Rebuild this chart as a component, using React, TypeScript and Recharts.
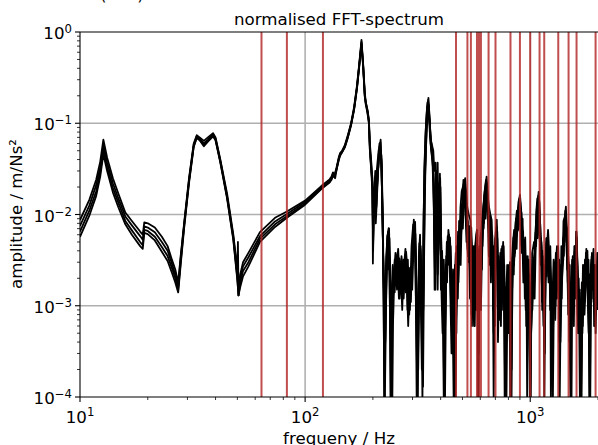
import React from 'react';
import { LineChart, Line, XAxis, YAxis, ReferenceLine } from 'recharts';

type Pt = [number, number];

// frequency (Hz), amplitude (m/Ns²)
const seriesA: Pt[] = [
  [10,0.0087],[11,0.0145],[11.8,0.024],[12.3,0.038],[12.7,0.066],[13.2,0.042],[14,0.025],[14.8,0.017],[15.9,0.0105],[17,0.0085],
  [18.5,0.0065],[19,0.006],[19.3,0.0082],[20,0.008],[21.5,0.0072],[23.1,0.0057],[24.5,0.0045],[25.6,0.0032],[26.5,0.0025],[27.3,0.0018],
  [28,0.0035],[29,0.008],[30.5,0.025],[32,0.06],[33,0.074],[34,0.07],[35.5,0.064],[37,0.07],[39,0.078],[40,0.07],
  [42,0.04],[45,0.017],[48,0.006],[50,0.0025],[50.3,0.005],[50.6,0.0013],[51.5,0.0022],[53,0.003],[56,0.0038],[63,0.0064],
  [73.5,0.0092],[83,0.0108],[100,0.0142],[118,0.0205],[128,0.024],[131,0.026],[133,0.029],[135,0.027],[138,0.033],[141,0.042],
  [143,0.047],[146,0.05],[150,0.057],[155,0.075],[160,0.1],[165,0.15],[170,0.26],[174,0.45],[178,0.82],[181,0.45],
  [184,0.22],[186,0.17],[188,0.15],[190,0.13],[192,0.11],[194,0.06],[197,0.036],[199,0.025],[200,0.0029],[201.5,0.012],
  [203,0.02],[205,0.03],[207,0.012],[209,0.022],[212,0.038],[216.5,0.066],[219,0.03],[221,0.009],[223,0.0015],[225,0.00008],
  [228,0.0012],[232,0.0055],[235,0.0071],[238,0.002],[240,0.00008],[243,0.0009],[246,0.0007],[249,0.0025],[252,0.0019],[255,0.0033],
  [258,0.0039],[261,0.0024],[264,0.003],[267,0.0019],[270,0.0026],[273,0.0017],[276,0.0028],[281,0.0039],[285,0.0022],[289,0.0012],
  [293,0.0026],[296,0.0016],[300,0.0038],[304,0.0062],[308,0.0083],[311,0.003],[314,0.0005],[316,0.00008],[319,0.0009],[323,0.005],
  [327,0.003],[331,0.0006],[334,0.00013],[338,0.004],[342,0.03],[347,0.1],[353,0.19],[358,0.1],[362,0.065],[366,0.058],
  [371,0.05],[375,0.03],[380,0.037],[384,0.006],[388,0.0015],[392,0.0104],[398,0.025],[401,0.008],[404,0.0029],[409,0.0013],
  [414,0.0004],[418,0.00008],[423,0.0018],[428,0.004],[434,0.0045],[440,0.0056],[446,0.0022],[450,0.0009],[455,0.0007],[460,0.0002],
  [464,0.00008],[468,0.0006],[470,0.0014],[476,0.0025],[482,0.0032],[488,0.0044],[494,0.0065],[498,0.01],[503,0.016],[508,0.021],
  [514,0.025],[519,0.018],[525,0.012],[533,0.01],[542,0.0087],[550,0.004],[555,0.0018],[560,0.0014],[565,0.0035],[570,0.0045],
  [575,0.006],[580,0.0068],[585,0.0009],[590,0.0003],[595,0.002],[600,0.0055],[607,0.0068],[612,0.009],[618,0.012],[625,0.015],
  [632,0.02],[640,0.026],[648,0.016],[656,0.012],[665,0.01],[674,0.0087],[681,0.004],[690,0.0025],[697,0.005],[703,0.0065],
  [710,0.0074],[716,0.0025],[721,0.0012],[727,0.0007],[733,0.0018],[740,0.0028],[748,0.0021],[753,0.0035],[758,0.005],[763,0.0022],
  [768,0.0006],[775,0.00008],[782,0.0006],[790,0.0012],[800,0.0016],[807,0.0022],[813,0.003],[819,0.0009],[826,0.0002],[834,0.0025],
  [842,0.0056],[850,0.0048],[857,0.007],[865,0.009],[872,0.008],[880,0.011],[890,0.014],[900,0.0164],[910,0.012],[918,0.008],
  [926,0.0065],[934,0.0042],[942,0.0048],[950,0.0056],[958,0.0022],[965,0.001],[972,0.0016],[980,0.0025],[988,0.0009],[995,0.0003],
  [1000,0.00008],[1008,0.0005],[1016,0.0014],[1024,0.002],[1030,0.0025],[1040,0.0035],[1050,0.0045],[1060,0.008],[1070,0.012],[1080,0.014],
  [1090,0.0177],[1097,0.013],[1104,0.009],[1113,0.006],[1125,0.0044],[1133,0.0022],[1140,0.0012],[1150,0.0006],[1160,0.0003],[1170,0.0018],
  [1180,0.004],[1190,0.005],[1200,0.0068],[1210,0.0045],[1223,0.003],[1232,0.0022],[1240,0.0016],[1250,0.0004],[1260,0.00008],[1270,0.0006],
  [1280,0.0014],[1290,0.002],[1300,0.0018],[1310,0.0025],[1320,0.0032],[1330,0.0045],[1340,0.002],[1355,0.0007],[1365,0.0014],[1375,0.0022],
  [1385,0.003],[1395,0.0042],[1405,0.0055],[1415,0.007],[1428,0.0098],[1440,0.0122],[1450,0.008],[1460,0.006],[1470,0.004],[1480,0.0025],
  [1490,0.0022],[1500,0.0016],[1512,0.0004],[1525,0.00008],[1535,0.0009],[1550,0.0025],[1565,0.0032],[1575,0.004],[1590,0.0035],[1600,0.0048],
  [1610,0.0056],[1620,0.003],[1635,0.0015],[1650,0.0011],[1670,0.0007],[1680,0.0003],[1690,0.00008],[1700,0.0005],[1710,0.0012],[1720,0.0016],
  [1730,0.0021],[1745,0.0024],[1760,0.003],[1780,0.0035],[1795,0.0022],[1810,0.0011],[1825,0.0004],[1840,0.00008],[1852,0.0009],[1865,0.002],
  [1880,0.0038],[1895,0.0028],[1915,0.002],[1930,0.0017],[1945,0.0014],[1960,0.0019],[1980,0.0025],[2000,0.001],
];

const seriesB: Pt[] = [
  [10,0.0075],[11,0.0125],[11.8,0.021],[12.3,0.033],[12.7,0.057],[13.2,0.037],[14,0.022],[14.8,0.015],[15.9,0.0095],[17,0.0076],
  [18.5,0.0058],[19,0.0053],[19.3,0.0074],[20,0.0072],[21.5,0.0064],[23.1,0.005],[24.5,0.004],[25.6,0.0029],[26.5,0.0022],[27.3,0.0016],
  [28,0.0033],[29,0.0077],[30.5,0.024],[32,0.058],[33,0.072],[34,0.068],[35.5,0.06],[37,0.066],[39,0.076],[40,0.068],
  [42,0.039],[45,0.016],[48,0.0057],[50,0.0022],[50.6,0.0015],[51.5,0.002],[53,0.0027],[56,0.0034],[63,0.0058],[73.5,0.0084],
  [83,0.0101],[100,0.0137],[118,0.0198],[128,0.023],[131,0.025],[133,0.028],[135,0.026],[138,0.032],[141,0.041],[143,0.046],
  [146,0.049],[150,0.056],[155,0.073],[160,0.098],[165,0.145],[170,0.25],[174,0.44],[178,0.78],[181,0.44],[184,0.21],
  [186,0.165],[188,0.145],[190,0.12],[192,0.105],[194,0.055],[197,0.032],[199,0.02],[200.5,0.006],[202,0.016],[205,0.021],
  [207,0.012],[210,0.03],[214,0.06],[218,0.04],[221,0.008],[224,0.0009],[226,0.00009],[230,0.0025],[234,0.0065],[237,0.003],
  [240,0.00009],[243,0.0007],[247,0.0015],[250,0.0032],[254,0.0018],[257,0.0036],[261,0.0012],[265,0.0028],[269,0.0021],[273,0.0032],
  [277,0.0016],[281,0.0036],[285,0.0009],[289,0.0026],[293,0.0014],[297,0.0045],[302,0.0078],[306,0.0065],[310,0.002],[313,0.00009],
  [318,0.0012],[322,0.0048],[326,0.0013],[330,0.0002],[336,0.01],[342,0.07],[348,0.15],[352,0.18],[356,0.12],[361,0.06],
  [366,0.045],[371,0.03],[375,0.008],[379,0.0015],[383,0.02],[388,0.037],[391,0.009],[395,0.022],[400,0.005],[404,0.0012],
  [408,0.0005],[413,0.0032],[418,0.0009],[422,0.002],[426,0.005],[431,0.0042],[436,0.006],[442,0.0012],[447,0.0003],[452,0.0009],
  [457,0.00009],[462,0.0019],[467,0.0038],[472,0.0022],[478,0.0065],[484,0.0048],[490,0.012],[496,0.018],[502,0.02],[507,0.022],
  [511,0.014],[517,0.009],[521,0.005],[528,0.0085],[533,0.003],[538,0.0065],[545,0.0011],[550,0.0043],[555,0.0019],[563,0.0006],
  [569,0.0035],[575,0.0009],[580,0.0055],[585,0.0012],[593,0.004],[600,0.0021],[604,0.0009],[612,0.006],[618,0.011],[624,0.016],
  [630,0.02],[636,0.024],[644,0.018],[650,0.013],[658,0.006],[664,0.01],[670,0.0042],[678,0.006],[683,0.0015],[688,0.00009],
  [694,0.0014],[700,0.0055],[706,0.004],[714,0.0065],[720,0.0015],[724,0.0035],[732,0.0009],[738,0.003],[744,0.0042],[752,0.0012],
  [760,0.0032],[766,0.0007],[770,0.00009],[780,0.0008],[786,0.0018],[792,0.0006],[804,0.0028],[808,0.0011],[818,0.0002],[830,0.0032],
  [836,0.0045],[848,0.0068],[856,0.0038],[862,0.0082],[872,0.011],[880,0.0075],[888,0.014],[895,0.015],[905,0.011],[912,0.006],
  [925,0.009],[930,0.004],[940,0.0038],[946,0.0012],[955,0.0025],[960,0.0006],[970,0.0018],[975,0.0035],[985,0.0011],[992,0.0004],
  [1005,0.00009],[1012,0.0012],[1020,0.0038],[1040,0.005],[1050,0.004],[1065,0.011],[1075,0.015],[1082,0.012],[1098,0.014],[1110,0.0065],
  [1118,0.0028],[1132,0.004],[1148,0.0015],[1155,0.00009],[1168,0.0021],[1175,0.0045],[1190,0.0055],[1208,0.0028],[1215,0.0042],[1230,0.0011],
  [1235,0.00009],[1250,0.0009],[1270,0.0032],[1280,0.0015],[1300,0.0038],[1320,0.0018],[1335,0.0028],[1348,0.0004],[1365,0.0012],[1375,0.0045],
  [1395,0.0035],[1405,0.0085],[1425,0.0095],[1450,0.0065],[1460,0.0025],[1478,0.003],[1490,0.0009],[1510,0.00009],[1518,0.0011],[1535,0.0032],
  [1560,0.0018],[1570,0.0045],[1590,0.003],[1600,0.0065],[1620,0.0028],[1645,0.0009],[1660,0.0015],[1680,0.00009],[1700,0.0008],[1715,0.0028],
  [1740,0.0014],[1750,0.0032],[1770,0.0025],[1795,0.004],[1820,0.0008],[1830,0.00009],[1850,0.0015],[1865,0.0028],[1895,0.0032],[1905,0.0012],
  [1925,0.0024],[1935,0.0009],[1960,0.0018],[1990,0.0032],[2000,0.0015],
];

const seriesC: Pt[] = [
  [10,0.0065],[11,0.011],[11.8,0.018],[12.3,0.029],[12.7,0.051],[13.2,0.033],[14,0.0195],[14.8,0.0135],[15.9,0.0085],[17,0.0067],
  [18.5,0.005],[19,0.0046],[19.3,0.0068],[20,0.0066],[21.5,0.0057],[23.1,0.0044],[24.5,0.0035],[25.6,0.0026],[26.5,0.002],[27.3,0.0015],
  [28,0.003],[29,0.0074],[30.5,0.023],[32,0.056],[33,0.07],[34,0.066],[35.5,0.057],[37,0.064],[39,0.073],[40,0.066],
  [42,0.038],[45,0.0155],[48,0.0054],[50,0.002],[50.6,0.0013],[51.5,0.0018],[53,0.0024],[56,0.003],[63,0.0054],[73.5,0.0078],
  [83,0.0096],[100,0.0132],[118,0.0194],[128,0.0225],[131,0.0245],[133,0.0275],[136,0.025],[138,0.0315],[141,0.04],[143,0.045],
  [146,0.0485],[150,0.055],[155,0.071],[160,0.096],[165,0.142],[170,0.245],[174,0.43],[178,0.75],[181,0.43],[184,0.2],
  [186,0.17],[188,0.15],[190,0.135],[192,0.1],[194,0.05],[197,0.03],[199,0.022],[200.5,0.004],[202,0.011],[205,0.018],
  [209,0.02],[213,0.05],[217,0.05],[220,0.015],[223,0.002],[227,0.0004],[232,0.0058],[236,0.007],[239,0.0012],[241,0.00009],
  [244,0.0018],[248,0.0022],[252,0.0038],[255,0.0025],[259,0.0042],[263,0.0019],[267,0.003],[271,0.0015],[275,0.0027],[279,0.0042],
  [283,0.002],[287,0.0006],[291,0.0018],[295,0.0011],[299,0.0035],[304,0.0088],[308,0.0045],[311,0.0008],[316,0.00009],[320,0.0035],
  [324,0.006],[328,0.0009],[333,0.0004],[338,0.03],[345,0.11],[350,0.17],[354,0.16],[358,0.08],[363,0.05],[368,0.038],
  [373,0.012],[377,0.0025],[381,0.006],[386,0.015],[389,0.0035],[393,0.015],[397,0.028],[402,0.0022],[406,0.004],[410,0.0013],
  [415,0.00009],[420,0.0015],[424,0.0035],[428,0.003],[433,0.0068],[438,0.0048],[444,0.0018],[449,0.0007],[454,0.0025],[460,0.0005],
  [464,0.00009],[469,0.0008],[475,0.0035],[481,0.0058],[487,0.0035],[493,0.009],[499,0.013],[505,0.024],[509,0.017],[514,0.02],
  [519,0.0075],[524,0.011],[531,0.006],[536,0.0045],[541,0.0018],[547,0.0072],[553,0.0035],[560,0.0011],[566,0.0045],[571,0.0022],
  [577,0.0012],[583,0.0035],[588,0.00009],[596,0.0028],[602,0.0045],[608,0.0035],[615,0.0085],[621,0.007],[627,0.013],[633,0.009],
  [640,0.022],[647,0.015],[654,0.0072],[661,0.0028],[667,0.006],[673,0.0065],[680,0.0032],[686,0.0009],[691,0.0018],[697,0.0006],
  [703,0.0032],[710,0.0088],[717,0.0035],[722,0.0007],[728,0.0024],[735,0.0016],[741,0.0006],[748,0.0032],[755,0.0024],[762,0.0045],
  [768,0.0015],[775,0.0004],[783,0.0013],[790,0.0028],[796,0.001],[802,0.0025],[812,0.0004],[822,0.0014],[826,0.00009],[834,0.0024],
  [845,0.0052],[852,0.0035],[858,0.0065],[868,0.0058],[875,0.0095],[884,0.0085],[892,0.0115],[903,0.0135],[908,0.0075],[915,0.0045],
  [920,0.0068],[935,0.0028],[942,0.0042],[950,0.0018],[958,0.0035],[968,0.0005],[978,0.0015],[990,0.0022],[996,0.00009],[1010,0.0006],
  [1016,0.0022],[1028,0.0012],[1035,0.0033],[1045,0.0026],[1055,0.0062],[1070,0.0072],[1085,0.016],[1095,0.011],[1105,0.0045],[1115,0.0055],
  [1125,0.0018],[1138,0.0028],[1145,0.0006],[1165,0.0012],[1172,0.0032],[1185,0.0021],[1195,0.0048],[1205,0.0035],[1220,0.002],[1228,0.0045],
  [1245,0.0007],[1255,0.0018],[1265,0.0008],[1278,0.0022],[1295,0.001],[1305,0.0034],[1315,0.0045],[1325,0.0015],[1340,0.0025],[1352,0.00009],
  [1370,0.0022],[1385,0.0018],[1400,0.0055],[1415,0.0045],[1432,0.011],[1445,0.008],[1462,0.0045],[1470,0.0012],[1485,0.0025],[1495,0.0006],
  [1505,0.0018],[1520,0.0007],[1530,0.0018],[1545,0.0035],[1555,0.0012],[1575,0.0028],[1585,0.0012],[1595,0.0042],[1605,0.0065],[1615,0.0038],
  [1625,0.0008],[1640,0.0006],[1652,0.0011],[1665,0.0004],[1675,0.0009],[1690,0.0014],[1705,0.0005],[1720,0.0022],[1735,0.0028],[1745,0.0011],
  [1760,0.0018],[1775,0.0042],[1785,0.0028],[1805,0.0015],[1815,0.0032],[1840,0.0006],[1858,0.0022],[1875,0.0035],[1890,0.0025],[1910,0.0042],
  [1920,0.0015],[1940,0.0028],[1955,0.0008],[1970,0.002],[1985,0.0038],[2000,0.0018],
];

const seriesD: Pt[] = [
  [10,0.0057],[11,0.0097],[11.8,0.016],[12.3,0.026],[12.7,0.046],[13.2,0.03],[14,0.0175],[14.8,0.012],[15.9,0.0078],[17,0.006],
  [18.5,0.0045],[19,0.0042],[19.3,0.0063],[20,0.0061],[21.5,0.0052],[23.1,0.0039],[24.5,0.0031],[25.6,0.0023],[26.5,0.0018],[27.3,0.0014],
  [28,0.0028],[29,0.007],[30.5,0.022],[32,0.055],[33,0.069],[34,0.065],[35.5,0.056],[37,0.063],[39,0.072],[40,0.065],
  [42,0.037],[45,0.015],[48,0.0052],[50,0.0019],[50.6,0.0013],[51.5,0.0016],[53,0.0021],[56,0.0027],[63,0.005],[73.5,0.0073],
  [83,0.0092],[100,0.0128],[118,0.019],[128,0.0222],[131,0.024],[133,0.027],[135,0.0255],[138,0.031],[141,0.039],[143,0.044],
  [146,0.048],[150,0.054],[155,0.07],[160,0.095],[165,0.14],[170,0.24],[174,0.42],[178,0.72],[181,0.42],[184,0.2],
  [186,0.16],[188,0.14],[190,0.125],[192,0.1],[194,0.05],[197,0.028],[199,0.018],[200.5,0.005],[202,0.012],[205,0.019],
  [208,0.03],[212,0.05],[216,0.062],[219,0.035],[222,0.006],[225,0.00008],
];

const seriesE: Pt[] = [
  [203,0.015],[206,0.008],[211,0.03],[215,0.055],[218,0.045],[222,0.004],[226,0.0007],[229,0.0035],[233,0.0062],[236,0.0045],
  [239,0.0005],[242,0.0012],[245,0.0028],[248,0.0017],[251,0.0029],[253,0.0021],[256,0.0034],[259,0.0016],[262,0.0033],[266,0.0022],
  [268,0.0035],[272,0.0024],[274,0.0012],[278,0.0025],[282,0.0018],[286,0.0032],[290,0.0008],[294,0.0022],[298,0.0028],[301,0.0052],
  [305,0.0075],[309,0.006],[312,0.0015],[317,0.0005],[321,0.0025],[325,0.0042],[329,0.0011],[332,0.00009],[337,0.012],[343,0.05],
  [349,0.14],[355,0.15],[360,0.075],[364,0.055],[369,0.042],[374,0.02],[378,0.004],[382,0.012],[385,0.03],[390,0.004],
  [394,0.018],[399,0.02],[403,0.0035],[407,0.0022],[411,0.0008],[416,0.0021],[419,0.0006],[425,0.0028],[430,0.0058],[436,0.0035],
  [443,0.0045],[448,0.0015],[453,0.0004],[458,0.0012],[463,0.0028],[466,0.0011],[471,0.0045],[477,0.0012],[483,0.0085],[489,0.0065],
  [495,0.013],[500,0.009],[506,0.017],[512,0.022],[516,0.013],[522,0.0095],[527,0.0042],[535,0.0075],[539,0.0028],[544,0.0052],
  [548,0.0008],[552,0.003],[558,0.0045],[564,0.0009],[568,0.0028],[573,0.005],[578,0.0018],[582,0.0042],[588,0.0016],[594,0.0045],
  [598,0.0012],[606,0.0042],[610,0.0025],[616,0.01],[622,0.008],[628,0.018],[634,0.014],[638,0.021],[645,0.011],[652,0.009],
  [660,0.0045],[668,0.0075],[676,0.0028],[684,0.0045],[692,0.0011],[698,0.0035],[706,0.0065],[712,0.0045],[718,0.0009],[725,0.0028],
  [730,0.0012],[736,0.0038],[745,0.0015],[750,0.0045],[757,0.0011],[764,0.0028],[772,0.0009],[778,0.0016],[784,0.00009],[794,0.0022],
  [800,0.0009],[810,0.0022],[816,0.0006],[828,0.0018],[838,0.0035],[845,0.0022],[853,0.0058],[860,0.0045],[868,0.0085],[877,0.0065],
  [885,0.012],[893,0.0095],[898,0.0145],[907,0.0085],[914,0.0105],[922,0.0045],[930,0.0065],[938,0.0018],[945,0.0038],[953,0.0012],
  [962,0.0028],[970,0.0008],[977,0.0022],[983,0.0032],[993,0.0012],[1002,0.0008],[1014,0.0018],[1022,0.0009],[1032,0.0032],[1042,0.0018],
  [1052,0.0055],[1062,0.0045],[1072,0.0105],[1083,0.0085],[1092,0.015],[1100,0.0075],[1108,0.0035],[1120,0.005],[1128,0.0011],[1136,0.0035],
  [1152,0.0009],[1162,0.0018],[1178,0.0055],[1188,0.0035],[1198,0.0058],[1213,0.002],[1225,0.0038],[1238,0.0006],[1248,0.0012],[1262,0.0005],
  [1275,0.0018],[1285,0.0009],[1295,0.0028],[1308,0.0012],[1318,0.0038],[1328,0.0022],[1345,0.0032],[1360,0.0009],[1372,0.0028],[1380,0.0012],
  [1392,0.0045],[1410,0.0035],[1420,0.0082],[1436,0.0105],[1448,0.005],[1455,0.0072],[1468,0.0018],[1476,0.0035],[1488,0.0014],[1498,0.0028],
  [1508,0.0009],[1528,0.0014],[1542,0.0022],[1552,0.0008],[1568,0.0022],[1580,0.0045],[1592,0.0018],[1603,0.0052],[1612,0.0042],[1628,0.0012],
  [1642,0.002],[1655,0.0006],[1668,0.0012],[1685,0.0008],[1695,0.0018],[1708,0.0009],[1725,0.0025],[1738,0.0012],[1755,0.0022],[1768,0.0038],
  [1790,0.0018],[1800,0.0028],[1815,0.0014],[1835,0.0022],[1845,0.0006],[1860,0.0018],[1870,0.0032],[1885,0.0022],[1900,0.0035],[1912,0.0011],
  [1930,0.0022],[1948,0.0012],[1965,0.0026],[1978,0.0016],[1992,0.0028],[2000,0.002],
];

const seriesF: Pt[] = [
  [228,0.0009],[231,0.004],[234,0.0025],[237,0.0055],[241,0.0009],[244,0.00009],[247,0.0022],[250,0.0014],[253,0.0027],[256,0.0015],
  [260,0.0031],[263,0.0012],[266,0.0025],[270,0.0009],[273,0.0022],[277,0.0031],[280,0.0014],[284,0.0028],[288,0.0018],[292,0.0009],
  [296,0.0024],[299,0.0015],[303,0.0042],[306,0.007],[310,0.0035],[313,0.0011],[318,0.0002],[322,0.002],[326,0.0045],[330,0.0015],
  [335,0.0009],[340,0.02],[346,0.08],[351,0.13],[357,0.11],[361,0.07],[367,0.05],[372,0.022],[376,0.0015],[380,0.009],
  [384,0.025],[388,0.0022],[392,0.006],[396,0.02],[401,0.0015],[405,0.0035],[409,0.0009],[413,0.00009],[417,0.0012],[421,0.0028],
  [427,0.0018],[432,0.005],[437,0.0028],[441,0.0035],[445,0.0009],[451,0.0019],[456,0.0003],[461,0.0009],[466,0.0022],[470,0.0005],
  [474,0.0028],[480,0.0018],[486,0.0055],[491,0.0028],[497,0.011],[502,0.007],[509,0.019],[513,0.012],[518,0.015],[523,0.006],
  [529,0.0035],[534,0.0055],[540,0.0012],[546,0.0035],[551,0.0006],[556,0.0028],[561,0.0022],[567,0.0006],[572,0.0032],[576,0.0028],
  [581,0.0009],[586,0.0025],[591,0.0006],[597,0.0032],[603,0.0028],[609,0.0055],[614,0.0045],[620,0.0095],[626,0.011],[631,0.015],
  [637,0.018],[642,0.012],[649,0.0085],[655,0.0035],[662,0.0055],[669,0.0018],[675,0.0048],[682,0.0025],[688,0.0005],[695,0.0025],
  [701,0.0045],[708,0.0028],[714,0.0055],[719,0.0004],[726,0.0015],[731,0.0028],[737,0.0009],[743,0.0022],[749,0.0009],[754,0.0025],
  [761,0.0015],[767,0.0028],[773,0.0005],[779,0.0011],[788,0.0007],[797,0.0016],[803,0.0005],[811,0.0014],[815,0.00009],[824,0.0011],
  [832,0.0016],[840,0.0035],[847,0.0028],[855,0.0045],[863,0.0055],[870,0.0042],[878,0.0085],[886,0.0068],[896,0.011],[902,0.0095],
  [911,0.0055],[917,0.0038],[924,0.0048],[932,0.0018],[939,0.0028],[947,0.0022],[955,0.0009],[963,0.0016],[969,0.00009],[976,0.0009],
  [984,0.0018],[991,0.0007],[998,0.0011],[1006,0.0004],[1018,0.0009],[1026,0.0014],[1036,0.0022],[1046,0.0012],[1056,0.0038],[1066,0.0065],
  [1078,0.0055],[1088,0.011],[1094,0.0085],[1102,0.0055],[1112,0.0028],[1122,0.0035],[1130,0.0009],[1142,0.0018],[1158,0.0005],[1166,0.0028],
  [1176,0.0022],[1186,0.0042],[1196,0.0028],[1206,0.0018],[1218,0.0028],[1226,0.0009],[1242,0.0011],[1252,0.0003],[1268,0.0011],[1282,0.0022],
  [1292,0.0007],[1302,0.0022],[1312,0.0018],[1322,0.0028],[1332,0.0012],[1350,0.0018],[1362,0.0004],[1378,0.0015],[1390,0.0025],[1402,0.0032],
  [1412,0.0055],[1424,0.0065],[1438,0.0085],[1452,0.0038],[1465,0.0028],[1474,0.0008],[1484,0.0015],[1494,0.0004],[1515,0.0006],[1532,0.0011],
  [1548,0.0015],[1562,0.0006],[1572,0.0018],[1588,0.0022],[1598,0.0032],[1608,0.0028],[1618,0.0012],[1632,0.0005],[1648,0.0009],[1662,0.00009],
  [1678,0.0006],[1692,0.0011],[1712,0.0006],[1728,0.0015],[1742,0.0008],[1758,0.0014],[1772,0.0022],[1788,0.0028],[1802,0.0011],[1818,0.0005],
  [1838,0.0012],[1848,0.00009],[1862,0.0012],[1878,0.0022],[1892,0.0015],[1908,0.0028],[1922,0.0006],[1938,0.0015],[1952,0.0005],[1968,0.0012],
  [1982,0.0022],[2000,0.0009],
];

// red marker lines (Hz)
const markerFreqs = [64, 83, 120, 468, 526, 545, 580, 592, 604, 653, 701, 817, 900, 1000, 1100, 1154, 1332, 1480, 1606, 1951];

const xTicks = [10, 20, 30, 40, 50, 60, 70, 80, 90, 100, 200, 300, 400, 500, 600, 700, 800, 900, 1000, 2000];
const xMajor = [10, 100, 1000];
const xMajorExp = ['1', '2', '3'];
const yTicks = [
  0.0001, 0.0002, 0.0003, 0.0004, 0.0005, 0.0006, 0.0007, 0.0008, 0.0009,
  0.001, 0.002, 0.003, 0.004, 0.005, 0.006, 0.007, 0.008, 0.009,
  0.01, 0.02, 0.03, 0.04, 0.05, 0.06, 0.07, 0.08, 0.09,
  0.1, 0.2, 0.3, 0.4, 0.5, 0.6, 0.7, 0.8, 0.9, 1,
];
const yMajor = [1, 0.1, 0.01, 0.001, 0.0001];
const yMajorExp = ['0', '\u22121', '\u22122', '\u22123', '\u22124'];
const xGrid = [100, 1000];
const yGrid = [0.1, 0.01, 0.001];

const FONT = '"DejaVu Sans", sans-serif';
const FS = 16.67;
const SUP = 11.7;

const toRows = (s: Pt[]) => s.map(([f, a]) => ({ f, a }));
const majorIndex = (v: number, list: number[]) => list.findIndex((m) => Math.abs(v - m) / m < 1e-6);

const XTick = (props: any) => {
  const { x, y, payload } = props;
  const idx = majorIndex(payload.value, xMajor);
  const major = idx >= 0;
  return (
    <g>
      <line x1={x} x2={x} y1={y} y2={y + (major ? 5 : 3)} stroke="#000" strokeWidth={major ? 1.1 : 0.8} />
      {major && (
        <text x={x} y={y + 26} textAnchor="middle" fontSize={FS} fill="#000" fontFamily={FONT}>
          10<tspan dy={-7} fontSize={SUP}>{xMajorExp[idx]}</tspan>
        </text>
      )}
    </g>
  );
};

const YTick = (props: any) => {
  const { x, y, payload } = props;
  const idx = majorIndex(payload.value, yMajor);
  const major = idx >= 0;
  return (
    <g>
      <line x1={x - (major ? 5 : 3)} x2={x} y1={y} y2={y} stroke="#000" strokeWidth={major ? 1.1 : 0.8} />
      {major && (
        <text x={x - 8} y={y + 7} textAnchor="end" fontSize={FS} fill="#000" fontFamily={FONT}>
          10<tspan dy={-6} fontSize={SUP}>{yMajorExp[idx]}</tspan>
        </text>
      )}
    </g>
  );
};

const seriesList = [seriesA, seriesB, seriesC, seriesD, seriesE, seriesF];

export default function App() {
  return (
    <div style={{ position: 'absolute', left: 0, top: 0, width: 598, height: 445, overflow: 'hidden', background: '#fff' }}>
      <LineChart width={598} height={445} margin={{ top: 32, right: 0, bottom: 0, left: 0 }}>
        <XAxis
          dataKey="f"
          type="number"
          scale="log"
          domain={[10, 2000]}
          ticks={xTicks}
          interval={0}
          allowDataOverflow
          height={48}
          tick={<XTick />}
          tickLine={false}
          tickSize={0}
          tickMargin={0}
          axisLine={{ stroke: '#000', strokeWidth: 1.1 }}
        />
        <YAxis
          type="number"
          scale="log"
          domain={[0.0001, 1]}
          ticks={yTicks}
          interval={0}
          allowDataOverflow
          width={80}
          tick={<YTick />}
          tickLine={false}
          tickSize={0}
          tickMargin={0}
          axisLine={{ stroke: '#000', strokeWidth: 1.1 }}
        />
        {xGrid.map((v) => (
          <ReferenceLine key={'gx' + v} x={v} stroke="#b0b0b0" strokeWidth={1.6} />
        ))}
        {yGrid.map((v) => (
          <ReferenceLine key={'gy' + v} y={v} stroke="#b0b0b0" strokeWidth={1.6} />
        ))}
        {seriesList.map((s, i) => (
          <Line
            key={'s' + i}
            data={toRows(s)}
            dataKey="a"
            stroke="#000"
            strokeWidth={1.8}
            strokeLinejoin="round"
            dot={false}
            activeDot={false}
            isAnimationActive={false}
          />
        ))}
        {markerFreqs.map((f) => (
          <ReferenceLine key={'m' + f} x={f} stroke="#b22222" strokeOpacity={0.8} strokeWidth={2} />
        ))}
        <ReferenceLine y={1} stroke="#000" strokeWidth={1.1} />
      </LineChart>
      <svg width={598} height={445} style={{ position: 'absolute', left: 0, top: 0, pointerEvents: 'none' }}>
        <text x={100} y={-0.5} fontSize={FS} fontFamily={FONT} fill="#000">(FRF)</text>
        <text x={339} y={25} textAnchor="middle" fontSize={FS} fontFamily={FONT} fill="#000">normalised FFT-spectrum</text>
        <text x={339} y={443.5} textAnchor="middle" fontSize={FS} fontFamily={FONT} fill="#000">frequeny / Hz</text>
        <text transform="translate(22,214) rotate(-90)" textAnchor="middle" fontSize={FS} fontFamily={FONT} fill="#000">amplitude / m/Ns²</text>
      </svg>
    </div>
  );
}
